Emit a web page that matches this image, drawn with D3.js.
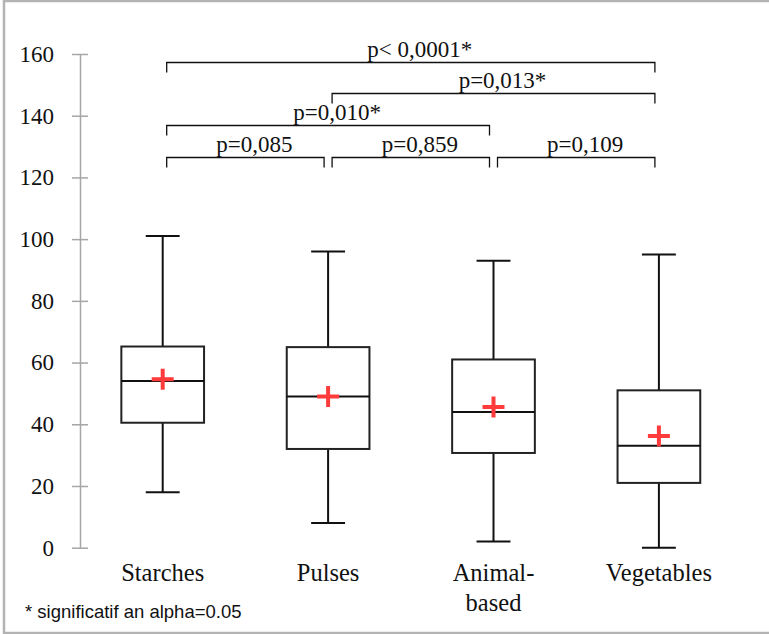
<!DOCTYPE html>
<html>
<head>
<meta charset="utf-8">
<script src="https://cdn.jsdelivr.net/npm/d3@7/dist/d3.min.js"></script>
<style>
body{margin:0;background:#fff}
</style>
</head>
<body>
<div id="chart"></div>
<script>
// box plot values
var categories = ["Starches","Pulses","Animal-based","Vegetables"]
var catLines = [["Starches"],["Pulses"],["Animal-","based"],["Vegetables"]]
var mins = [18, 8, 2, 0]
var q1s = [40.5, 32, 30.7, 21]
var medians = [54, 49, 44, 33]
var q3s = [65.2, 65, 61, 51]
var maxs = [101, 96, 93, 95]
var means = [54.6, 49, 45.6, 36.2]
var yTicks = [0,20,40,60,80,100,120,140,160]

// pairwise comparisons (index pairs), their p-values and bracket heights
var pairs = [[0,3],[1,3],[0,2],[0,1],[1,2],[2,3]]
var pLabels = ["p< 0,0001*","p=0,013*","p=0,010*","p=0,085","p=0,859","p=0,109"]
var pLevels = [157.5,147.3,136.9,126.7,126.7,126.7]

var w = 769, h = 634
var serif = "'Liberation Serif','Times New Roman',serif"

var svg = d3.select("#chart")
	.append("svg").attr("width",w).attr("height",h)

svg.append("rect")
	.attr("x",4).attr("y",1).attr("width",767).attr("height",632)
	.attr("fill","none").attr("stroke","#b3b3b3").attr("stroke-width",2.5)

var x = d3.scalePoint().domain(categories).range([80,741.6]).padding(0.5)
var y = d3.scaleLinear().domain([0,160]).range([547.7,54])
var step = x.step()
var boxW = step*0.5
var capW = step*0.205

// y axis, ticks crossing the line
var ax = svg.append("g")
	.attr("transform","translate(80,0)")
	.call(d3.axisLeft(y).tickValues(yTicks).tickSizeInner(8).tickSizeOuter(0).tickPadding(18))
ax.select(".domain").attr("stroke","#a6a6a6").attr("stroke-width",1.5)
ax.selectAll(".tick line").attr("x1",8).attr("stroke","#a6a6a6").attr("stroke-width",1.5)
ax.selectAll(".tick text")
	.attr("font-family",serif).attr("font-size",23).attr("fill","#111")

var g = svg.append("g")
var idx = d3.range(categories.length)

// whiskers
g.selectAll(".whisk")
	.data(idx).enter().append("line")
	.attr("class","whisk")
	.attr("x1",function(i){return x(categories[i])})
	.attr("x2",function(i){return x(categories[i])})
	.attr("y1",function(i){return y(mins[i])})
	.attr("y2",function(i){return y(maxs[i])})
	.attr("stroke","#111").attr("stroke-width",2)

g.selectAll(".capLo")
	.data(idx).enter().append("line")
	.attr("x1",function(i){return x(categories[i])-capW/2})
	.attr("x2",function(i){return x(categories[i])+capW/2})
	.attr("y1",function(i){return y(mins[i])})
	.attr("y2",function(i){return y(mins[i])})
	.attr("stroke","#111").attr("stroke-width",2)

g.selectAll(".capHi")
	.data(idx).enter().append("line")
	.attr("x1",function(i){return x(categories[i])-capW/2})
	.attr("x2",function(i){return x(categories[i])+capW/2})
	.attr("y1",function(i){return y(maxs[i])})
	.attr("y2",function(i){return y(maxs[i])})
	.attr("stroke","#111").attr("stroke-width",2)

// boxes
g.selectAll(".box")
	.data(idx).enter().append("rect")
	.attr("x",function(i){return x(categories[i])-boxW/2})
	.attr("y",function(i){return y(q3s[i])})
	.attr("width",boxW)
	.attr("height",function(i){return y(q1s[i])-y(q3s[i])})
	.attr("fill","#fff").attr("stroke","#222").attr("stroke-width",2)

g.selectAll(".med")
	.data(idx).enter().append("line")
	.attr("x1",function(i){return x(categories[i])-boxW/2})
	.attr("x2",function(i){return x(categories[i])+boxW/2})
	.attr("y1",function(i){return y(medians[i])})
	.attr("y2",function(i){return y(medians[i])})
	.attr("stroke","#111").attr("stroke-width",2)

// mean crosses
var cross = 11
g.selectAll(".meanH")
	.data(idx).enter().append("line")
	.attr("x1",function(i){return x(categories[i])-cross})
	.attr("x2",function(i){return x(categories[i])+cross})
	.attr("y1",function(i){return y(means[i])})
	.attr("y2",function(i){return y(means[i])})
	.attr("stroke","#ff3b3b").attr("stroke-width",4)
g.selectAll(".meanV")
	.data(idx).enter().append("line")
	.attr("x1",function(i){return x(categories[i])})
	.attr("x2",function(i){return x(categories[i])})
	.attr("y1",function(i){return y(means[i])-cross+0.5})
	.attr("y2",function(i){return y(means[i])+cross-0.5})
	.attr("stroke","#ff3b3b").attr("stroke-width",4)

// category labels
var labs = svg.selectAll(".cat")
	.data(idx).enter().append("text")
	.attr("x",function(i){return x(categories[i])})
	.attr("y",580.7)
	.attr("text-anchor","middle")
	.attr("font-family",serif).attr("font-size",24.5).attr("fill","#111")
labs.selectAll("tspan")
	.data(function(i){return catLines[i]})
	.enter().append("tspan")
	.attr("x",function(){return d3.select(this.parentNode).attr("x")})
	.attr("dy",function(d,j){return j==0 ? 0 : 30})
	.text(function(d){return d})

// significance brackets
var inset = 4, drop = 10
var br = svg.selectAll(".br")
	.data(d3.range(pairs.length)).enter().append("g")
br.append("path")
	.attr("d",function(k){
		var a = x(categories[pairs[k][0]])+inset
		var b = x(categories[pairs[k][1]])-inset
		var yy = Math.round(y(pLevels[k]))+0.5
		return "M"+a+","+(yy+drop)+"V"+yy+"H"+b+"V"+(yy+drop)
	})
	.attr("fill","none").attr("stroke","#111").attr("stroke-width",1.3)
br.append("text")
	.attr("x",function(k){
		var a = x(categories[pairs[k][0]])+inset
		var b = x(categories[pairs[k][1]])-inset
		return (a+b)/2+9
	})
	.attr("y",function(k){return y(pLevels[k])-5})
	.attr("text-anchor","middle")
	.attr("font-family",serif).attr("font-size",23).attr("fill","#111")
	.text(function(k){return pLabels[k]})

svg.append("text")
	.attr("x",25).attr("y",617.5)
	.attr("font-family","'Liberation Sans',Arial,sans-serif")
	.attr("font-size",18.5).attr("fill","#111")
	.text("* significatif an alpha=0.05")
</script>
</body>
</html>
